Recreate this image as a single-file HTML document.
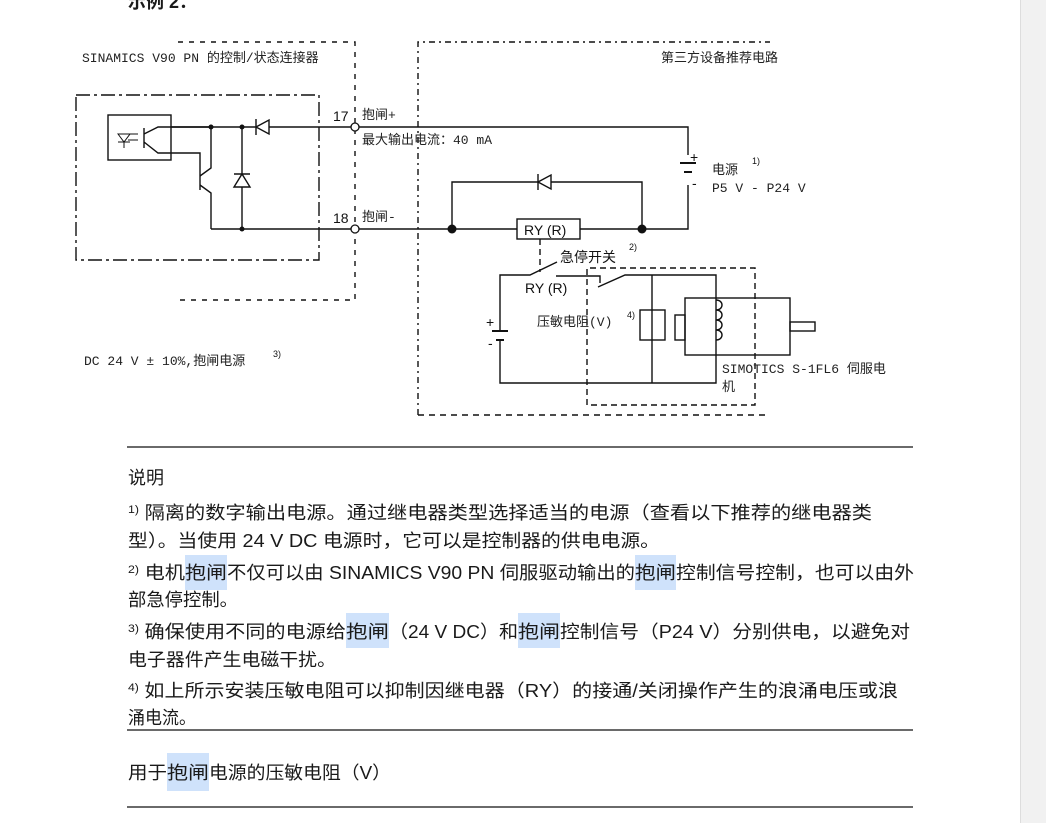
<!DOCTYPE html>
<html><head><meta charset="utf-8"><style>
body{margin:0;background:#fff;width:1046px;height:823px;overflow:hidden}
svg{display:block}
.m{font-family:"Liberation Mono","Noto Sans CJK SC",monospace;font-size:13px;fill:#222}
.s{font-family:"Liberation Sans","Noto Sans CJK SC",sans-serif;font-size:14px;fill:#111}
.t{font-family:"Liberation Sans","Noto Sans CJK SC",sans-serif;font-size:18px;fill:#1a1a1a}
.sup{font-family:"Liberation Sans",sans-serif;font-size:9px;fill:#111}
</style></head><body>
<svg width="1046" height="823" viewBox="0 0 1046 823">
<rect x="1020" y="0" width="26" height="823" fill="#f1f1f1"/>
<line x1="1020.5" y1="0" x2="1020.5" y2="823" stroke="#ddd"/>
<text x="128" y="8" class="t" fill="#223" font-weight="bold">示例 2：</text>
<g fill="none" stroke="#111" stroke-width="1.4">
<path d="M178 42H355V300H178" stroke-dasharray="5 6"/>
<path d="M418 415V42H770" stroke-dasharray="6 4 2 4"/>
<path d="M418 415H770" stroke-dasharray="6 5"/>
<rect x="76" y="95" width="243" height="165" stroke-dasharray="14 4 3 4"/>
<rect x="108" y="115" width="63" height="45"/>
<path d="M144 128V148M144 134L158 127H211M144 142L158 153H200V190"/>
<path d="M118 134l6 8 6-8zM118 142h12M124 142v6M128 134h10M128 140h10" stroke-width="1"/>
<path d="M200 176L211 168V127M200 185L211 193V229"/>
<path d="M171 127H352M358 127H688V155"/>
<path d="M242 127V229M211 229H352M358 229H688V185"/>
<path d="M256 127l13-7v14zM256 119v16" fill="#fff"/>
<path d="M234 174h16M242 174l8 13h-16z" fill="#fff"/>
<path d="M452 229V182H642V229"/>
<path d="M538 182l13-7v14zM538 174v16" fill="#fff"/>
<rect x="517" y="219" width="63" height="20" fill="#fff"/>
<path d="M540 239V272" stroke-dasharray="6 4"/>
<path d="M500 331V275H530L557 262M556 276H600V283"/>
<path d="M500 340V383H716V275H625L598 287"/>
<path d="M652 275V383"/>
<rect x="640" y="310" width="25" height="30"/>
<rect x="685" y="298" width="105" height="57"/>
<rect x="675" y="315" width="10" height="25"/>
<rect x="790" y="322" width="25" height="9"/>
<path d="M716 300c8 0 8 10 0 10c8 0 8 10 0 10c8 0 8 10 0 10c8 0 8 10 0 10"/>
<path d="M590 268H755V405H587V268" stroke-dasharray="6 4"/>
</g>
<g stroke="#111" stroke-width="2" fill="none">
<path d="M680 163h16M684 172h8"/>
<path d="M492 331h16M496 340h8"/>
</g>
<g fill="#111">
<circle cx="211" cy="127" r="2.5"/><circle cx="242" cy="127" r="2.5"/><circle cx="242" cy="229" r="2.5"/>
<circle cx="452" cy="229" r="4.5"/><circle cx="642" cy="229" r="4.5"/>
</g>
<circle cx="355" cy="127" r="4" fill="#fff" stroke="#111" stroke-width="1.3"/>
<circle cx="355" cy="229" r="4" fill="#fff" stroke="#111" stroke-width="1.3"/>
<text x="82" y="62" class="m">SINAMICS V90 PN 的控制/状态连接器</text>
<text x="661" y="62" class="m">第三方设备推荐电路</text>
<text x="333" y="121" class="s">17</text><text x="362" y="119" class="m">抱闸+</text>
<text x="362" y="144" class="m">最大输出电流：40 mA</text>
<text x="333" y="223" class="s">18</text><text x="362" y="221" class="m">抱闸-</text>
<text x="690" y="162" class="s">+</text><text x="692" y="188" class="s">-</text>
<text x="712" y="174" class="m">电源</text><text x="752" y="164" class="sup">1)</text>
<text x="712" y="192" class="m">P5 V - P24 V</text>
<text x="524" y="235" class="s">RY (R)</text>
<text x="560" y="262" class="s">急停开关</text><text x="629" y="250" class="sup">2)</text>
<text x="525" y="293" class="s">RY (R)</text>
<text x="486" y="327" class="s">+</text><text x="488" y="348" class="s">-</text>
<text x="537" y="326" class="m">压敏电阻(V)</text><text x="627" y="318" class="sup">4)</text>
<text x="722" y="373" class="m">SIMOTICS S-1FL6 伺服电</text>
<text x="722" y="391" class="m">机</text>
<text x="84" y="365" class="m">DC 24 V ± 10%,抱闸电源</text><text x="273" y="357" class="sup">3)</text>
<g stroke="#111" stroke-width="1.2">
<line x1="127" y1="447" x2="913" y2="447"/><line x1="127" y1="730" x2="913" y2="730"/><line x1="127" y1="807" x2="913" y2="807"/>
</g>
<g fill="#cfe2fb">
<rect x="185" y="555" width="42" height="35"/><rect x="635" y="555" width="41" height="35"/>
<rect x="346" y="613" width="43" height="35"/><rect x="518" y="613" width="42" height="35"/>
<rect x="167" y="753" width="42" height="38"/>
</g>
<text x="128" y="484" class="t">说明</text>
<text x="128" y="519" class="t" textLength="744" lengthAdjust="spacingAndGlyphs"><tspan font-size="11" dy="-6">1)</tspan><tspan dy="6"> 隔离的数字输出电源。通过继电器类型选择适当的电源（查看以下推荐的继电器类</tspan></text>
<text x="128" y="547" class="t" textLength="532" lengthAdjust="spacingAndGlyphs">型）。当使用 24 V DC 电源时，它可以是控制器的供电电源。</text>
<text x="128" y="579" class="t" textLength="57" lengthAdjust="spacingAndGlyphs"><tspan font-size="11" dy="-6">2)</tspan><tspan dy="6"> 电机</tspan></text>
<text x="185" y="579" class="t" textLength="42" lengthAdjust="spacingAndGlyphs">抱闸</text>
<text x="227" y="579" class="t" textLength="408" lengthAdjust="spacingAndGlyphs">不仅可以由 SINAMICS V90 PN 伺服驱动输出的</text>
<text x="635" y="579" class="t" textLength="41" lengthAdjust="spacingAndGlyphs">抱闸</text>
<text x="676" y="579" class="t" textLength="238" lengthAdjust="spacingAndGlyphs">控制信号控制，也可以由外</text>
<text x="128" y="606" class="t" textLength="110" lengthAdjust="spacingAndGlyphs">部急停控制。</text>
<text x="128" y="638" class="t" textLength="218" lengthAdjust="spacingAndGlyphs"><tspan font-size="11" dy="-6">3)</tspan><tspan dy="6"> 确保使用不同的电源给</tspan></text>
<text x="346" y="638" class="t" textLength="43" lengthAdjust="spacingAndGlyphs">抱闸</text>
<text x="389" y="638" class="t" textLength="129" lengthAdjust="spacingAndGlyphs">（24 V DC）和</text>
<text x="518" y="638" class="t" textLength="42" lengthAdjust="spacingAndGlyphs">抱闸</text>
<text x="560" y="638" class="t" textLength="350" lengthAdjust="spacingAndGlyphs">控制信号（P24 V）分别供电，以避免对</text>
<text x="128" y="666" class="t" textLength="208" lengthAdjust="spacingAndGlyphs">电子器件产生电磁干扰。</text>
<text x="128" y="697" class="t" textLength="770" lengthAdjust="spacingAndGlyphs"><tspan font-size="11" dy="-6">4)</tspan><tspan dy="6"> 如上所示安装压敏电阻可以抑制因继电器（RY）的接通/关闭操作产生的浪涌电压或浪</tspan></text>
<text x="128" y="724" class="t" textLength="68" lengthAdjust="spacingAndGlyphs">涌电流。</text>
<text x="128" y="779" class="t" textLength="39" lengthAdjust="spacingAndGlyphs">用于</text>
<text x="167" y="779" class="t" textLength="42" lengthAdjust="spacingAndGlyphs">抱闸</text>
<text x="209" y="779" class="t" textLength="182" lengthAdjust="spacingAndGlyphs">电源的压敏电阻（V）</text>
</svg>
</body></html>
